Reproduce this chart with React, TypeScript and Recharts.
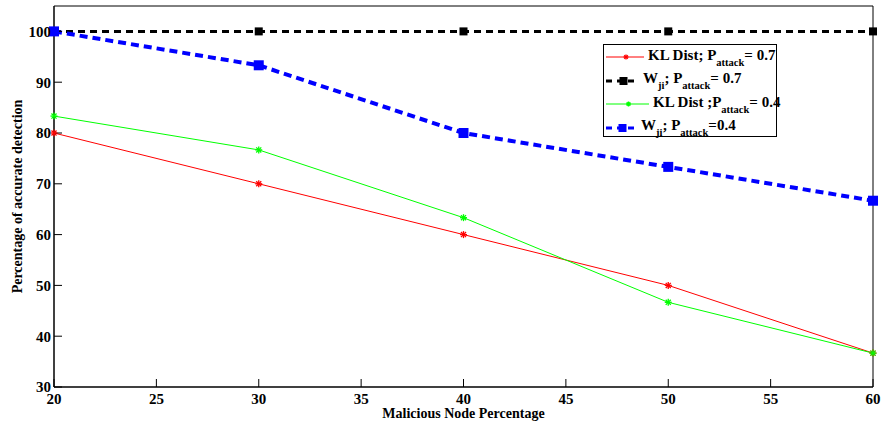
import React from 'react';
import { LineChart, Line, XAxis, YAxis, Legend } from 'recharts';

// Malicious node percentage (x) and detection accuracy per method (y, %)
const nodePct = [20, 30, 40, 50, 60];
const klDist07 = [80, 70, 60, 50, 36.67];
const wji07 = [100, 100, 100, 100, 100];
const klDist04 = [83.33, 76.67, 63.33, 46.67, 36.67];
const wji04 = [100, 93.33, 80, 73.33, 66.67];

const xTicks = [20, 25, 30, 35, 40, 45, 50, 55, 60];
const yTicks = [30, 40, 50, 60, 70, 80, 90, 100];

const rows = nodePct.map((x, i) => ({
  x,
  kl07: klDist07[i],
  wji07: wji07[i],
  kl04: klDist04[i],
  wji04: wji04[i],
}));

const FONT = '"Liberation Serif", "Times New Roman", serif';
const tickStyle = { fill: '#000', fontSize: 15, fontWeight: 700, fontFamily: FONT };

const asterisk = (color: string, r = 3.5) => (props: any) => {
  const { cx, cy, index } = props;
  if (cx == null || cy == null) return <g key={index} />;
  const d = r * 0.72;
  return (
    <g key={index} stroke={color} strokeWidth={1.3}>
      <line x1={cx - r} y1={cy} x2={cx + r} y2={cy} />
      <line x1={cx} y1={cy - r} x2={cx} y2={cy + r} />
      <line x1={cx - d} y1={cy - d} x2={cx + d} y2={cy + d} />
      <line x1={cx - d} y1={cy + d} x2={cx + d} y2={cy - d} />
    </g>
  );
};

const square = (color: string, size: number) => (props: any) => {
  const { cx, cy, index } = props;
  if (cx == null || cy == null) return <g key={index} />;
  return <rect key={index} x={cx - size / 2} y={cy - size / 2} width={size} height={size} fill={color} />;
};

const subStyle: React.CSSProperties = { fontSize: 10.5, verticalAlign: -6, lineHeight: 0 };

const legendItems = [
  { color: '#ff0000', width: 1, dash: undefined, mark: 'star', len: 40, rowH: 22, label: <>KL Dist; P<span style={subStyle}>attack</span>= 0.7</> },
  { color: '#000000', width: 3, dash: '6 5', mark: 'square', len: 35, rowH: 25, label: <>W<span style={subStyle}>ji</span>; P<span style={subStyle}>attack</span>= 0.7</> },
  { color: '#00ff00', width: 1, dash: undefined, mark: 'star', len: 45, rowH: 22, label: <>KL Dist ;P<span style={subStyle}>attack</span>= 0.4</> },
  { color: '#0000ff', width: 3, dash: '6 5', mark: 'square', len: 33, rowH: 25, label: <>W<span style={subStyle}>ji</span>; P<span style={subStyle}>attack</span>=0.4</> },
];

const renderLegend = () => (
  <div
    style={{
      width: 174,
      height: 93,
      border: '1px solid #000',
      background: '#fff',
      fontFamily: FONT,
      fontWeight: 700,
      fontSize: 15,
      color: '#000',
      paddingTop: 1,
      boxSizing: 'border-box',
    }}
  >
    {legendItems.map((it, i) => (
      <div key={i} style={{ display: 'flex', alignItems: 'center', height: it.rowH, whiteSpace: 'nowrap' }}>
        <svg width={it.len + 4} height={12} style={{ flex: 'none' }}>
          <line x1={2} y1={6} x2={it.len} y2={6} stroke={it.color} strokeWidth={it.width} strokeDasharray={it.dash} />
          {it.mark === 'star'
            ? asterisk(it.color, 2.5)({ cx: 2 + it.len / 2, cy: 6, index: 0 })
            : square(it.color, 8)({ cx: 2 + it.len / 2, cy: 6, index: 0 })}
        </svg>
        <span style={{ marginTop: -4 }}>{it.label}</span>
      </div>
    ))}
  </div>
);

export default function App() {
  return (
    <div style={{ position: 'absolute', left: 0, top: 0, width: 881, height: 426, background: '#fff' }}>
      <LineChart width={881} height={426} data={rows} margin={{ top: 5, right: 7, bottom: 0, left: 0 }}>
        <XAxis
          dataKey="x"
          type="number"
          domain={[20, 60]}
          ticks={xTicks}
          height={39}
          tickSize={-8}
          tickMargin={14}
          tick={tickStyle}
          stroke="#000"
          axisLine={{ stroke: '#000', strokeWidth: 1.5 }}
          tickLine={{ stroke: '#000' }}
          label={{
            value: 'Malicious Node Percentage',
            position: 'insideBottom',
            offset: 8,
            style: { fill: '#000', fontSize: 14, fontWeight: 700, fontFamily: FONT },
          }}
        />
        <XAxis
          xAxisId="top"
          orientation="top"
          type="number"
          domain={[20, 60]}
          ticks={xTicks}
          height={1}
          tickSize={-8}
          tick={false}
          axisLine={{ stroke: '#000' }}
          tickLine={{ stroke: '#000' }}
        />
        <YAxis
          type="number"
          domain={[30, 105]}
          ticks={yTicks}
          width={54}
          tickSize={-8}
          tickMargin={11}
          tick={tickStyle}
          axisLine={{ stroke: '#000', strokeWidth: 1.5 }}
          tickLine={{ stroke: '#000' }}
          label={{
            value: 'Percentage of  accurate detection',
            angle: -90,
            position: 'insideLeft',
            offset: 17,
            style: { textAnchor: 'middle', fill: '#000', fontSize: 14, fontWeight: 700, fontFamily: FONT, whiteSpace: 'pre' },
          }}
        />
        <YAxis
          yAxisId="right"
          orientation="right"
          type="number"
          domain={[30, 105]}
          ticks={yTicks}
          width={1}
          tickSize={-8}
          tick={false}
          axisLine={{ stroke: '#000' }}
          tickLine={{ stroke: '#000' }}
        />
        <Legend
          content={renderLegend}
          layout="vertical"
          align="center"
          verticalAlign="middle"
          wrapperStyle={{ left: 603, top: 44, width: 174, height: 93 }}
        />
        <Line
          dataKey="kl07"
          name="KL Dist; P_attack = 0.7"
          stroke="#ff0000"
          strokeWidth={1}
          dot={asterisk('#ff0000')}
          activeDot={false}
          isAnimationActive={false}
        />
        <Line
          dataKey="wji07"
          name="W_ji; P_attack = 0.7"
          stroke="#000000"
          strokeWidth={3}
          strokeDasharray="7 5"
          dot={square('#000000', 8)}
          activeDot={false}
          isAnimationActive={false}
        />
        <Line
          dataKey="kl04"
          name="KL Dist; P_attack = 0.4"
          stroke="#00ff00"
          strokeWidth={1}
          dot={asterisk('#00ff00')}
          activeDot={false}
          isAnimationActive={false}
        />
        <Line
          dataKey="wji04"
          name="W_ji; P_attack = 0.4"
          stroke="#0000ff"
          strokeWidth={4}
          strokeDasharray="8 5"
          dot={square('#0000ff', 10)}
          activeDot={false}
          isAnimationActive={false}
        />
      </LineChart>
    </div>
  );
}
